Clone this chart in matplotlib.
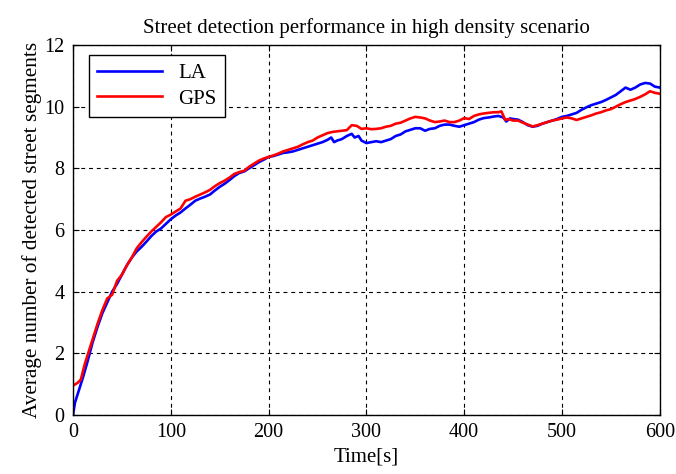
import matplotlib.pyplot as plt

# values
la_t = [0, 2, 5, 10, 15, 20, 25, 30, 35, 40, 45, 50, 55, 60, 65, 70, 75, 80, 85, 90,
        95, 100, 105, 110, 115, 120, 125, 130, 135, 140, 145, 150, 155, 160, 165, 170,
        175, 180, 185, 190, 195, 200, 205, 210, 215, 220, 225, 230, 235, 240, 245, 250,
        255, 260, 264, 267, 270, 275, 280, 285, 288, 292, 295, 300, 305, 310, 315, 320,
        325, 330, 335, 340, 345, 350, 355, 360, 365, 370, 375, 380, 385, 390, 395, 400,
        405, 410, 415, 420, 425, 430, 435, 440, 443, 447, 450, 455, 460, 465, 470, 475,
        480, 485, 490, 495, 500, 505, 510, 515, 520, 525, 530, 535, 540, 545, 550, 555,
        560, 565, 570, 575, 580, 585, 590, 595, 600]
la_v = [0.0, 0.4, 0.7, 1.2, 1.75, 2.35, 2.85, 3.3, 3.65, 4.0, 4.25, 4.55, 4.85, 5.1,
        5.3, 5.45, 5.62, 5.8, 5.95, 6.05, 6.2, 6.35, 6.47, 6.57, 6.7, 6.82, 6.95, 7.02,
        7.08, 7.15, 7.28, 7.4, 7.5, 7.62, 7.75, 7.85, 7.9, 8.0, 8.1, 8.2, 8.28, 8.37,
        8.4, 8.45, 8.5, 8.52, 8.55, 8.6, 8.65, 8.7, 8.75, 8.8, 8.85, 8.92, 9.0, 8.85,
        8.9, 8.95, 9.05, 9.12, 9.0, 9.05, 8.9, 8.82, 8.85, 8.88, 8.85, 8.9, 8.95, 9.05,
        9.1, 9.2, 9.25, 9.3, 9.3, 9.22, 9.28, 9.3, 9.38, 9.42, 9.42, 9.38, 9.35, 9.4,
        9.45, 9.5, 9.58, 9.63, 9.65, 9.68, 9.7, 9.65, 9.52, 9.62, 9.6, 9.58, 9.5, 9.4,
        9.35, 9.38, 9.45, 9.5, 9.55, 9.6, 9.67, 9.7, 9.75, 9.8, 9.9, 9.98, 10.05, 10.1,
        10.15, 10.22, 10.3, 10.38, 10.5, 10.62, 10.55, 10.62, 10.72, 10.77, 10.75,
        10.65, 10.62]

gps_t = [0, 5, 8, 12, 15, 20, 25, 30, 35, 40, 45, 50, 55, 60, 65, 70, 75, 80, 85, 90,
         95, 100, 105, 110, 115, 120, 125, 130, 135, 140, 145, 150, 155, 160, 165, 170,
         175, 180, 185, 190, 195, 200, 205, 210, 215, 220, 225, 230, 235, 240, 245, 250,
         255, 260, 265, 270, 275, 280, 285, 290, 295, 300, 305, 310, 315, 320, 325, 330,
         335, 340, 345, 350, 355, 360, 365, 370, 375, 380, 385, 390, 395, 400, 405, 410,
         415, 420, 425, 430, 435, 438, 442, 445, 450, 455, 460, 465, 470, 475, 480, 485,
         490, 495, 500, 505, 510, 515, 520, 525, 530, 535, 540, 545, 550, 555, 560, 565,
         570, 575, 580, 585, 590, 595, 600]
gps_v = [0.95, 1.05, 1.15, 1.65, 1.95, 2.45, 2.95, 3.4, 3.78, 3.9, 4.35, 4.55, 4.85,
         5.1, 5.4, 5.6, 5.78, 5.95, 6.1, 6.25, 6.42, 6.5, 6.6, 6.7, 6.95, 7.0, 7.08,
         7.15, 7.22, 7.3, 7.42, 7.52, 7.6, 7.7, 7.82, 7.88, 7.92, 8.05, 8.15, 8.25, 8.32,
         8.37, 8.42, 8.48, 8.55, 8.6, 8.65, 8.7, 8.78, 8.85, 8.9, 9.0, 9.07, 9.14, 9.18,
         9.2, 9.22, 9.24, 9.4, 9.38, 9.28, 9.3, 9.27, 9.28, 9.3, 9.35, 9.38, 9.45, 9.48,
         9.55, 9.62, 9.67, 9.65, 9.62, 9.55, 9.5, 9.52, 9.55, 9.5, 9.5, 9.55, 9.63, 9.6,
         9.7, 9.75, 9.78, 9.8, 9.82, 9.82, 9.85, 9.57, 9.6, 9.55, 9.55, 9.48, 9.42, 9.36,
         9.4, 9.45, 9.5, 9.55, 9.58, 9.62, 9.65, 9.62, 9.57, 9.62, 9.67, 9.72, 9.78,
         9.82, 9.88, 9.92, 10.0, 10.08, 10.15, 10.2, 10.25, 10.32, 10.4, 10.5, 10.45,
         10.42]

x_ticks = [0, 100, 200, 300, 400, 500, 600]
y_ticks = [0, 2, 4, 6, 8, 10, 12]

plt.rcParams['font.family'] = ['Liberation Serif', 'DejaVu Serif']

fig = plt.figure(figsize=(6.76, 4.74), dpi=100)
ax = fig.add_axes([0.108, 0.1245, 0.868, 0.7805])

ax.plot(la_t, la_v, color='#0000ff', lw=1.9, label='LA')
ax.plot(gps_t, gps_v, color='#ff0000', lw=1.9, label='GPS')

ax.set_xlim(0, 600)
ax.set_ylim(0, 12)
ax.set_xticks(x_ticks)
ax.set_yticks(y_ticks)
ax.tick_params(direction='in', labelsize=14.5, length=4, width=0.8, pad=6,
               top=True, right=True)
ax.grid(True, color='black', linestyle=(0, (3.5, 3.5)), linewidth=0.8)
for s in ax.spines.values():
    s.set_linewidth(1.0)

ax.set_title('Street detection performance in high density scenario', fontsize=15, pad=9)
ax.set_xlabel('Time[s]', fontsize=15, labelpad=4)
ax.set_ylabel('Average number of detected street segments', fontsize=15.3, labelpad=2)

leg = ax.legend(loc='upper left', fontsize=15, fancybox=False, framealpha=1,
                edgecolor='black', handlelength=3.1, borderpad=0.4,
                labelspacing=0.3, borderaxespad=0, bbox_to_anchor=(0.027, 0.973))
leg.get_frame().set_linewidth(1.0)

fig.savefig('out.png', dpi=100)
